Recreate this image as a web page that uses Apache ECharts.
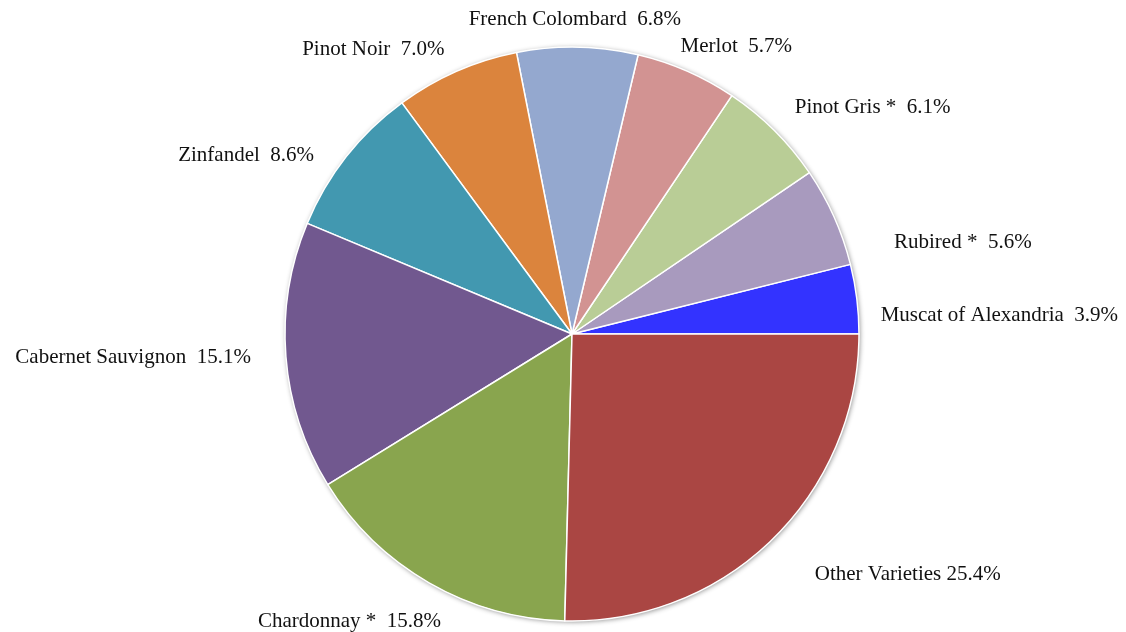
<!DOCTYPE html>
<html>
<head>
<meta charset="utf-8">
<script src="https://cdn.jsdelivr.net/npm/echarts@6/dist/echarts.min.js"></script>
<style>
  html, body { margin: 0; padding: 0; background: #ffffff; }
  #chart { width: 1126px; height: 632px; }
</style>
</head>
<body>
<div id="chart"></div>
<script>
// Data (share of crush, %), counter-clockwise from 3 o'clock
const categories = [
  'Muscat of Alexandria', 'Rubired *', 'Pinot Gris *', 'Merlot', 'French Colombard',
  'Pinot Noir', 'Zinfandel', 'Cabernet Sauvignon', 'Chardonnay *', 'Other Varieties'
];
const values = [3.9, 5.6, 6.1, 5.7, 6.8, 7.0, 8.6, 15.1, 15.8, 25.4];
const colors = [
  '#3333FF', '#A89ABE', '#B9CD96', '#D29392', '#94A8CF',
  '#DB843D', '#4298B0', '#71588F', '#89A54E', '#AA4643'
];

// small label nudges (styling only) [dx, dy], by slice index
const labelNudge = [
  [-3, 19], [35, 35], [0, -7], [-20, -4], [-8, -6],
  [2, -2], [-10, 12], [-8, -1], [28, 20], [22, 19]
];

const pieData = categories.map((c, i) => ({
  name: c,
  value: values[i],
  itemStyle: { color: colors[i] }
}));
const total = values.reduce((a, b) => a + b, 0);

const chart = echarts.init(document.getElementById('chart'), null, { renderer: 'canvas' });
chart.setOption({
  backgroundColor: '#ffffff',
  animation: false,
  series: [
    {
      // shadow backdrop under the pie
      type: 'pie',
      silent: true,
      center: [572, 334],
      radius: [0, 287],
      startAngle: 0,
      z: 1,
      label: { show: false },
      labelLine: { show: false },
      itemStyle: {
        color: '#ffffff',
        shadowBlur: 5,
        shadowOffsetX: 1,
        shadowOffsetY: 1,
        shadowColor: 'rgba(0,0,0,0.45)'
      },
      data: [{ name: 'all', value: total }]
    },
    {
      type: 'pie',
      center: [572, 334],
      radius: [0, 287],
      startAngle: 0,
      clockwise: false,
      z: 2,
      avoidLabelOverlap: false,
      itemStyle: { borderColor: '#ffffff', borderWidth: 1.5 },
      label: {
        show: true,
        position: 'outside',
        fontFamily: '"Liberation Serif", "Times New Roman", serif',
        fontSize: 21,
        color: '#111111',
        bleedMargin: 0,
        overflow: 'none',
        formatter: function (p) {
          const gap = p.name === 'Other Varieties' ? ' ' : '  ';
          return p.name + gap + p.value.toFixed(1) + '%';
        }
      },
      labelLine: { show: false, length: 22, length2: 0 },
      labelLayout: function (p) {
        const n = labelNudge[p.dataIndex] || [0, 0];
        const out = { dx: n[0], dy: n[1] };
        if (p.dataIndex === 4) out.align = 'center';
        return out;
      },
      data: pieData
    }
  ]
});
</script>
</body>
</html>
